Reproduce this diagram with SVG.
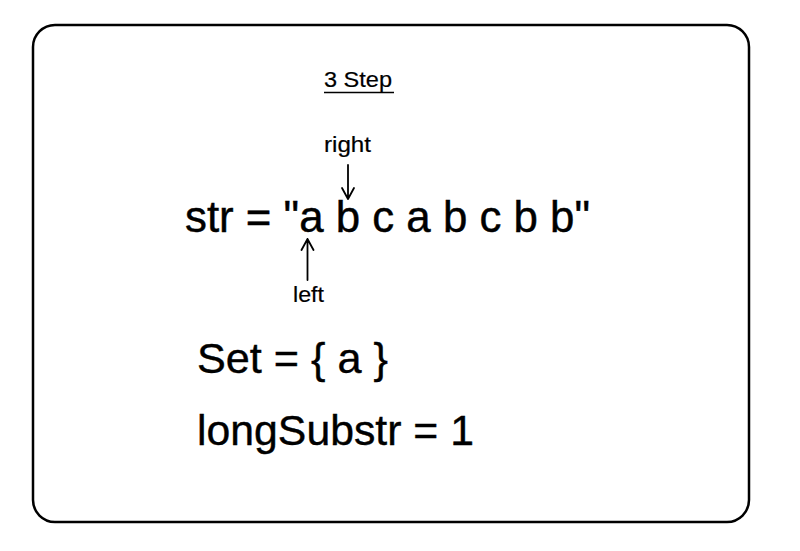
<svg xmlns="http://www.w3.org/2000/svg" width="800" height="551" viewBox="0 0 800 551">
<style>
  .t { font-family: "Liberation Sans", Arial, sans-serif; fill: #000; stroke: #000; }
  .small { font-size: 22px; stroke-width: 0.2; }
  .big { font-size: 45px; stroke-width: 0.45; }
  .mid { font-size: 43px; stroke-width: 0.4; }
  .ln { stroke: #000; stroke-width: 1.8; fill: none; stroke-linecap: round; stroke-linejoin: round; }
</style>
<rect x="0" y="0" width="800" height="551" fill="#fff"/>
<g id="frame">
  <rect x="33" y="25" width="716" height="497" rx="22" ry="22" fill="#fff" stroke="#000" stroke-width="2.5"/>
</g>
<g id="title">
  <text class="t small" x="324" y="87" textLength="68" lengthAdjust="spacingAndGlyphs">3 Step</text>
  <line x1="324" y1="92.5" x2="394" y2="92.5" stroke="#000" stroke-width="1.5"/>
</g>
<g id="right-label">
  <text class="t small" x="324" y="152" textLength="47" lengthAdjust="spacingAndGlyphs">right</text>
</g>
<g id="str">
  <text class="t big" x="185" y="232" textLength="405" lengthAdjust="spacingAndGlyphs">str = "a b c a b c b b"</text>
</g>
<g id="left-label">
  <text class="t small" x="293" y="302" textLength="31" lengthAdjust="spacingAndGlyphs">left</text>
</g>
<g id="set">
  <text class="t mid" x="197" y="373" textLength="191" lengthAdjust="spacingAndGlyphs">Set = { a }</text>
</g>
<g id="longSubstr">
  <text class="t mid" x="197" y="445" textLength="277" lengthAdjust="spacingAndGlyphs">longSubstr = 1</text>
</g>
<g id="connectors">
  <path class="ln" d="M348 165 L348 199 M342 188 L348 199 L354 188"/>
  <path class="ln" d="M307.5 280 L307.5 239 M301.5 250 L307.5 239 L313.5 250"/>
</g>
</svg>
